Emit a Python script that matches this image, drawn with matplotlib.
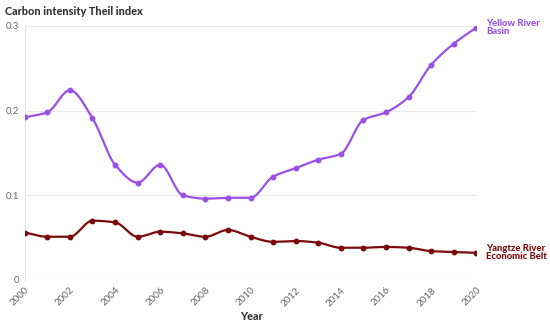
import numpy as np
import matplotlib
matplotlib.use("Agg")
import matplotlib.pyplot as plt

years = list(range(2000, 2021))
yellow = [0.192, 0.198, 0.224, 0.191, 0.136, 0.115, 0.136, 0.100, 0.096, 0.097, 0.097,
          0.122, 0.132, 0.142, 0.149, 0.189, 0.198, 0.216, 0.254, 0.279, 0.298]
yangtze = [0.056, 0.051, 0.051, 0.070, 0.068, 0.051, 0.057, 0.055, 0.051, 0.059, 0.051,
           0.045, 0.046, 0.044, 0.038, 0.038, 0.039, 0.038, 0.034, 0.033, 0.032]
tick_years = list(range(2000, 2021, 2))


def monotone(x, y, n=20):
    # Fritsch-Carlson monotone cubic, only used to draw the smooth line
    x = np.asarray(x, float)
    y = np.asarray(y, float)
    h = np.diff(x)
    d = np.diff(y) / h
    m = np.zeros_like(y)
    m[0], m[-1] = d[0], d[-1]
    for i in range(1, len(y) - 1):
        if d[i - 1] * d[i] <= 0:
            m[i] = 0
        else:
            w1 = 2 * h[i] + h[i - 1]
            w2 = h[i] + 2 * h[i - 1]
            m[i] = (w1 + w2) / (w1 / d[i - 1] + w2 / d[i])
    xs, ys = [], []
    for i in range(len(x) - 1):
        t = np.linspace(0, 1, n, endpoint=False)
        h00 = 2 * t**3 - 3 * t**2 + 1
        h10 = t**3 - 2 * t**2 + t
        h01 = -2 * t**3 + 3 * t**2
        h11 = t**3 - t**2
        xs.append(x[i] + t * h[i])
        ys.append(h00 * y[i] + h10 * h[i] * m[i] + h01 * y[i + 1] + h11 * h[i] * m[i + 1])
    xs.append([x[-1]])
    ys.append([y[-1]])
    return np.concatenate(xs), np.concatenate(ys)


plt.rcParams['font.family'] = ['Lato', 'DejaVu Sans']

fig = plt.figure(figsize=(5.5, 3.24), dpi=100)
ax = fig.add_axes([0.045, 0.136, 0.821, 0.784])

purple = "#9a50e6"
darkred = "#7b0a0a"

for vals, col in [(yellow, purple), (yangtze, darkred)]:
    sx, sy = monotone(years, vals)
    ax.plot(sx, sy, color=col, lw=1.6, zorder=3)
    ax.plot(years, vals, 'o', color=col, ms=3.2, zorder=4)

ax.set_xlim(2000, 2020)
ax.set_ylim(0, 0.3)
ax.set_yticks([0, 0.1, 0.2, 0.3])
ax.set_yticklabels(["0", "0.1", "0.2", "0.3"])
ax.set_xticks(tick_years)
ax.set_xticklabels([str(y) for y in tick_years], rotation=45, ha='right', rotation_mode='anchor')
ax.tick_params(axis='both', length=0, labelsize=7, colors='#666666')
ax.tick_params(axis='x', pad=4)
ax.tick_params(axis='y', pad=4)
ax.grid(axis='y', color='#e8e8e8', lw=0.8)
for s in ['top', 'right', 'bottom']:
    ax.spines[s].set_visible(False)
ax.spines['left'].set_color('#e8e8e8')
ax.set_axisbelow(True)
ax.set_clip_on(False)

ax.annotate("Yellow River\nBasin", xy=(2020, yellow[-1]), xytext=(7, 0), textcoords='offset points',
            color=purple, fontsize=6.8, fontweight='black', va='center', ha='left', linespacing=0.9)
ax.annotate("Yangtze River\nEconomic Belt", xy=(2020, yangtze[-1]), xytext=(7, 0), textcoords='offset points',
            color=darkred, fontsize=6.8, fontweight='black', va='center', ha='left', linespacing=0.9)

fig.text(0.009, 0.965, "Carbon intensity Theil index", fontsize=7.8, fontweight='black',
         color='#333333', va='center', ha='left')
fig.text(0.457, 0.022, "Year", fontsize=7.8, fontweight='black', color='#333333', va='center', ha='center')

fig.savefig("out.png", dpi=100)
